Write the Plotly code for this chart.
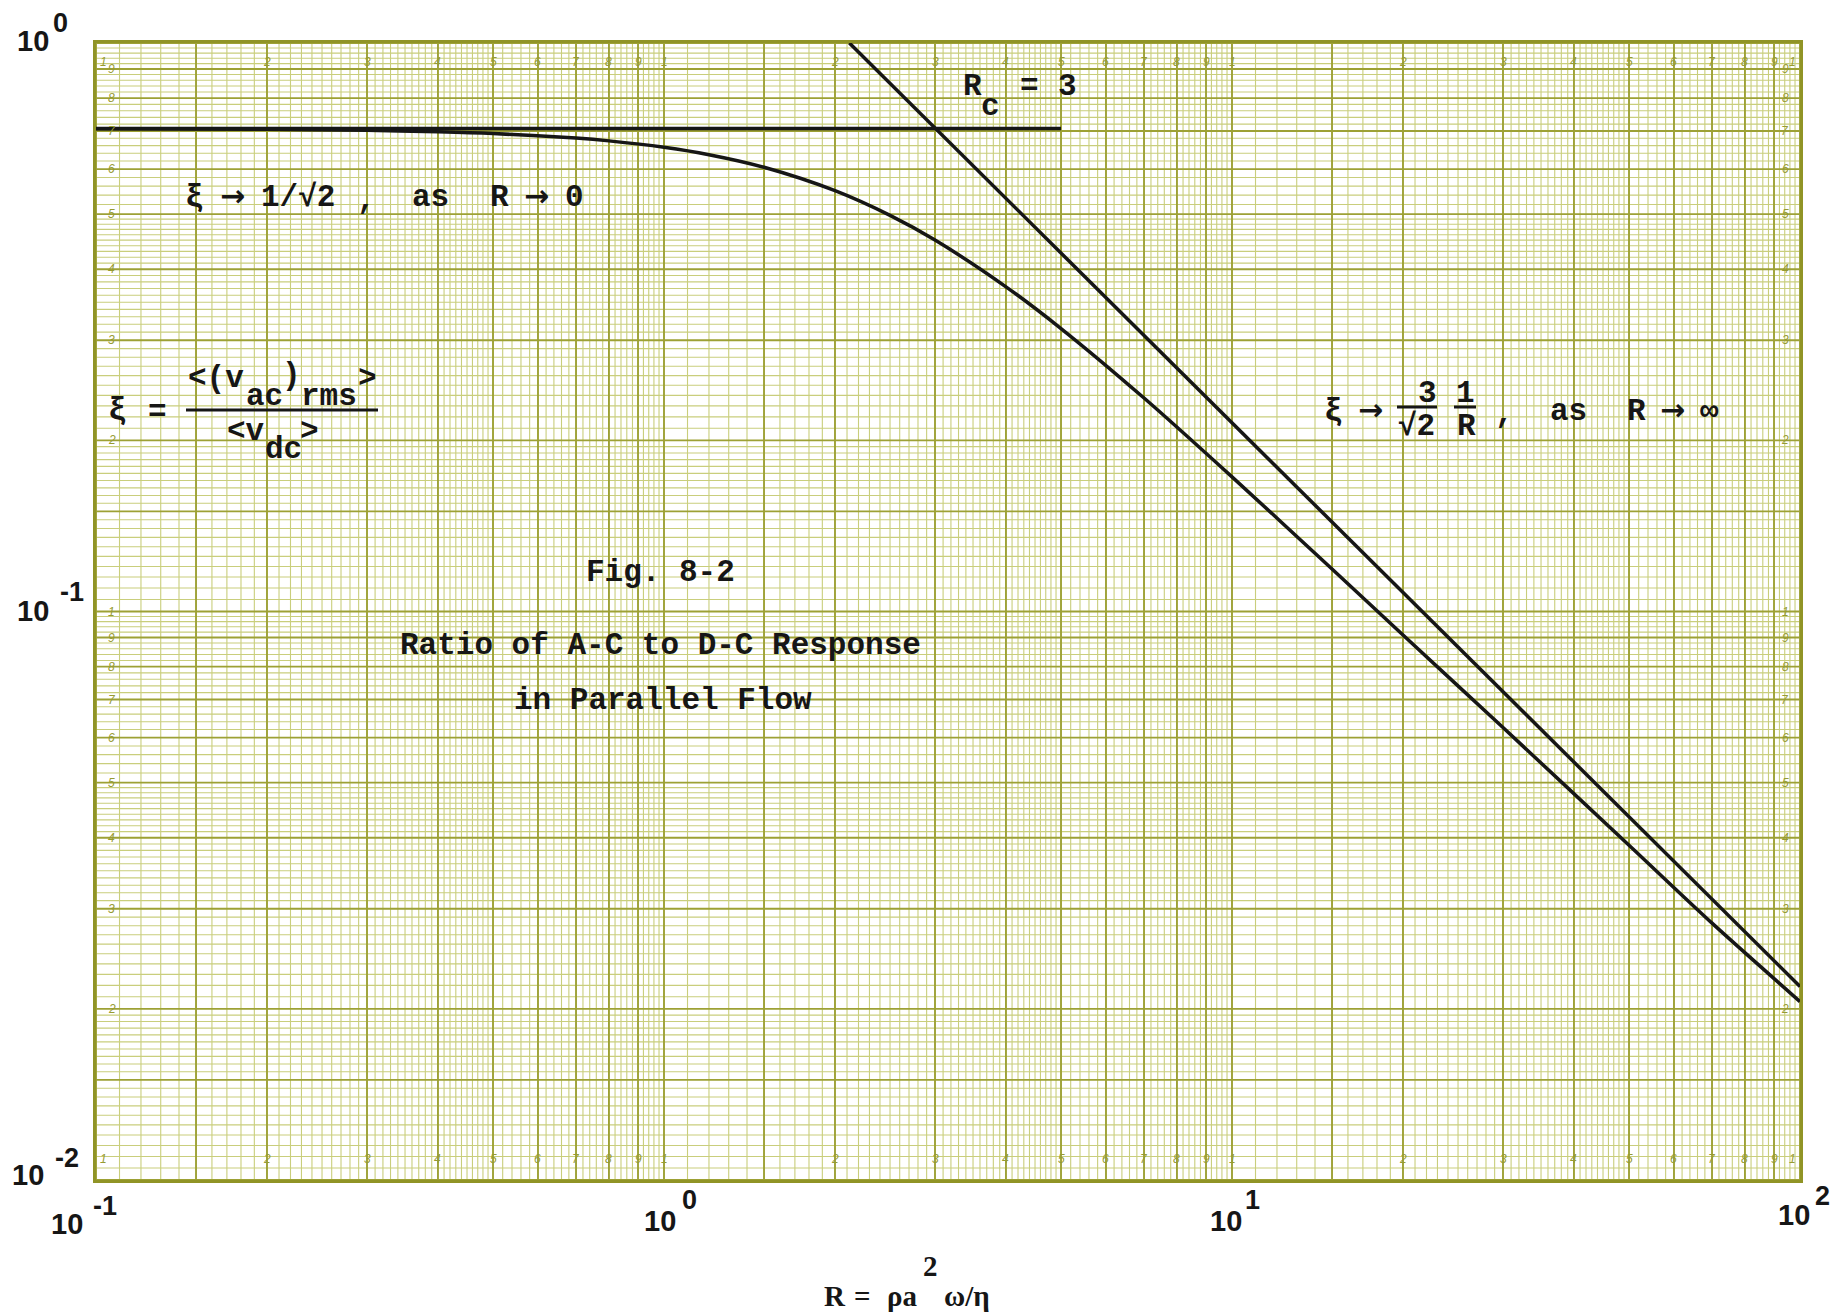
import numpy as np
import plotly.graph_objects as go

# ---------------- data ----------------
R_curve = [0.1, 0.2, 0.3, 0.4, 0.5, 0.7, 0.8, 1.0, 1.2, 1.5, 2.0, 2.5, 3.0, 4.0, 5.0,
           7.0, 10.0, 15.0, 20.0, 30.0, 50.0, 70.0, 100.0]
xi_curve = [0.7065, 0.7048, 0.7020, 0.6980, 0.6931, 0.6803, 0.6727, 0.6555, 0.6361, 0.6045,
            0.5498, 0.4974, 0.4501, 0.3725, 0.3146, 0.2374, 0.1725, 0.1188, 0.0909, 0.0625,
            0.0388, 0.0283, 0.0206]

R_asym = [2.12, 100.0]          # xi -> 3/(sqrt2 R)
xi_asym = [1.0, 0.0219]

R_limit = [0.1, 5.0]            # xi -> 1/sqrt2
xi_limit = [0.7071, 0.7071]

x_tick_exp = ["-1", "0", "1", "2"]
y_tick_exp = ["0", "-1", "-2"]
paper_digits = ["1", "2", "3", "4", "5", "6", "7", "8", "9"]

# ---------------- styling ----------------
INK = "#161616"
MAJOR_C = "#9da135"
MINOR_C = "#c9ce7c"
FRAME_C = "#909426"
DIGIT_C = "#969b32"
MONO = "Liberation Mono, DejaVu Sans Mono, monospace"
SERIF = "Liberation Serif, DejaVu Serif, serif"
SANS = "Liberation Sans, Arial, sans-serif"
ARROW = "DejaVu Sans, sans-serif"

FIG_W, FIG_H = 1835, 1315
PL, PT, PR, PB = 96, 43, 1800, 1180     # plot area in page pixels


def px(x):
    return (x - PL) / (PR - PL)


def py(y):
    return (PB - y) / (PB - PT)


X_DECADES = [-1, 0, 1]
Y_DECADES = [-2, -1]
MAJOR_MANT = [1, 1.5, 2, 3, 4, 5, 6, 7, 8, 9]
X_MINOR_STEPS = [(1, 2, 0.1), (2, 5, 0.1), (5, 10, 0.2)]
Y_MINOR_STEPS = [(1, 2, 0.05), (2, 5, 0.1), (5, 10, 0.2)]


def major_values(decades, last):
    vals = [m * 10.0 ** d for d in decades for m in MAJOR_MANT]
    vals.append(last)
    return vals


def minor_values(decades, steps):
    out = []
    majors = set(round(m, 4) for m in MAJOR_MANT)
    for d in decades:
        for a, b, s in steps:
            n = int(round((b - a) / s))
            for k in range(1, n):
                v = a + k * s
                if round(v, 4) in majors:
                    continue
                out.append(v * 10.0 ** d)
    return out


def vsegs(vals, lo, hi):
    xs, ys = [], []
    for v in vals:
        xs += [v, v, None]
        ys += [lo, hi, None]
    return xs, ys


def hsegs(vals, lo, hi):
    ys, xs = vsegs(vals, lo, hi)
    return xs, ys


fig = go.Figure()

# graph-paper grid
grid_layers = [
    (vsegs(minor_values(X_DECADES, X_MINOR_STEPS), 0.01, 1.0), MINOR_C, 1.1),
    (hsegs(minor_values(Y_DECADES, Y_MINOR_STEPS), 0.1, 100.0), MINOR_C, 1.1),
    (vsegs(major_values(X_DECADES, 100.0), 0.01, 1.0), MAJOR_C, 1.9),
    (hsegs(major_values(Y_DECADES, 1.0), 0.1, 100.0), MAJOR_C, 1.9),
]
for (xs, ys), color, width in grid_layers:
    fig.add_trace(go.Scatter(x=xs, y=ys, mode="lines", line=dict(color=color, width=width),
                             hoverinfo="skip", connectgaps=False))

# curves
fig.add_trace(go.Scatter(x=R_limit, y=xi_limit, mode="lines",
                         line=dict(color=INK, width=3.5)))
fig.add_trace(go.Scatter(x=R_asym, y=xi_asym, mode="lines",
                         line=dict(color=INK, width=3.5)))
fig.add_trace(go.Scatter(x=R_curve, y=xi_curve, mode="lines",
                         line=dict(color=INK, width=3.5, shape="spline", smoothing=0.8)))


def txt(s, x, y, size=31, family=MONO, bold=True, xanchor="center", color=INK):
    fig.add_annotation(text=(f"<b>{s}</b>" if bold else s), x=px(x), y=py(y),
                       xref="paper", yref="paper", showarrow=False,
                       xanchor=xanchor, yanchor="middle",
                       font=dict(family=family, size=size, color=color))


def arrow(x, y):
    txt("→", x, y, size=30, family=ARROW)


def bar(x0, x1, y):
    fig.add_shape(type="line", xref="paper", yref="paper", x0=px(x0), x1=px(x1),
                  y0=py(y), y1=py(y), line=dict(color=INK, width=3))


# xi -> 1/sqrt2 , as R -> 0
txt("ξ", 194, 197)
arrow(232, 195)
txt("1/√2", 298, 197)
txt(",", 366, 199)
txt("as", 430, 197)
txt("R", 499, 197)
arrow(536, 195)
txt("0", 574, 197)

# xi = <(v_ac)_rms> / <v_dc>
txt("ξ", 117, 410)
txt("=", 157, 412)
txt("<(v", 216, 379)
txt("ac", 264, 397)
txt(")", 291, 375)
txt("rms", 329, 397)
txt(">", 367, 378)
bar(186, 378, 410)
txt("<v", 246, 431)
txt("dc", 283, 449)
txt(">", 309, 431)

# R_c = 3
txt("R", 972, 87)
txt("c", 991, 106)
txt("=", 1029, 87)
txt("3", 1067, 87)

# caption
txt("Fig. 8-2", 660, 572)
txt("Ratio of A-C to D-C Response", 660, 645)
txt("in Parallel Flow", 663, 700)

# xi -> 3/sqrt2 * 1/R , as R -> inf
txt("ξ", 1333, 411)
arrow(1370, 409)
txt("3", 1427, 393)
bar(1397, 1437, 407)
txt("√2", 1416, 426)
txt("1", 1465, 393)
bar(1454, 1476, 407)
txt("R", 1466, 426)
txt(",", 1504, 413)
txt("as", 1568, 411)
txt("R", 1636, 411)
arrow(1672, 409)
txt("∞", 1709, 411)

# x-axis title  R = rho a^2 omega / eta
AX_SZ = 29
txt("R", 835, 1296, size=AX_SZ, family=SERIF)
txt("=", 862, 1296, size=AX_SZ, family=SERIF)
txt("ρa", 902, 1296, size=AX_SZ, family=SERIF)
txt("2", 930, 1266, size=AX_SZ, family=SERIF)
txt("ω/η", 967, 1296, size=AX_SZ, family=SERIF)

# decade tick labels (10 and exponent at equal size)
x_tick_pos = [(67, 1224, 105, 1206), (660, 1221, 689, 1200),
              (1226, 1221, 1252, 1200), (1794, 1215, 1822, 1196)]
for e, (bx, by, ex, ey) in zip(x_tick_exp, x_tick_pos):
    txt("10", bx, by, size=29, family=SANS)
    txt(e, ex, ey, size=27, family=SANS)

y_tick_pos = [(33, 41, 60, 23), (33, 611, 72, 592), (28, 1175, 67, 1158)]
for e, (bx, by, ex, ey) in zip(y_tick_exp, y_tick_pos):
    txt("10", bx, by, size=29, family=SANS)
    txt(e, ex, ey, size=27, family=SANS)

# small printed digits on the graph paper
DFONT = dict(family=SANS, size=12, color=DIGIT_C)
for d in X_DECADES:
    for i, dig in enumerate(paper_digits):
        v = (i + 1) * 10.0 ** d
        for yy in (53, 1168):
            fig.add_annotation(text=f"<i>{dig}</i>", x=np.log10(v), xref="x",
                               y=py(yy), yref="paper", showarrow=False,
                               xshift=(7 if (d == -1 and i == 0) else 0), font=DFONT)
for yy in (53, 1168):
    fig.add_annotation(text="<i>1</i>", x=2.0, xref="x", y=py(yy), yref="paper",
                       showarrow=False, xshift=-8, font=DFONT)
for d in Y_DECADES:
    for i, dig in enumerate(paper_digits):
        if d == -2 and i == 0:
            continue
        v = (i + 1) * 10.0 ** d
        for xx in (106, 1791):
            fig.add_annotation(text=f"<i>{dig}</i>", x=px(xx), xref="paper",
                               y=np.log10(v), yref="y", showarrow=False, font=DFONT)

fig.update_layout(
    width=FIG_W, height=FIG_H,
    margin=dict(l=PL, r=FIG_W - PR, t=PT, b=FIG_H - PB, pad=0),
    showlegend=False, paper_bgcolor="white", plot_bgcolor="white",
    xaxis=dict(type="log", range=[-1, 2], showgrid=False, zeroline=False,
               showticklabels=False, ticks="", showline=True, linecolor=FRAME_C,
               linewidth=3, mirror=True, fixedrange=True),
    yaxis=dict(type="log", range=[-2, 0], showgrid=False, zeroline=False,
               showticklabels=False, ticks="", showline=True, linecolor=FRAME_C,
               linewidth=3, mirror=True, fixedrange=True),
)

fig.write_html("out.html", post_script="document.body.style.margin='0px';",
               config={"displayModeBar": False})
